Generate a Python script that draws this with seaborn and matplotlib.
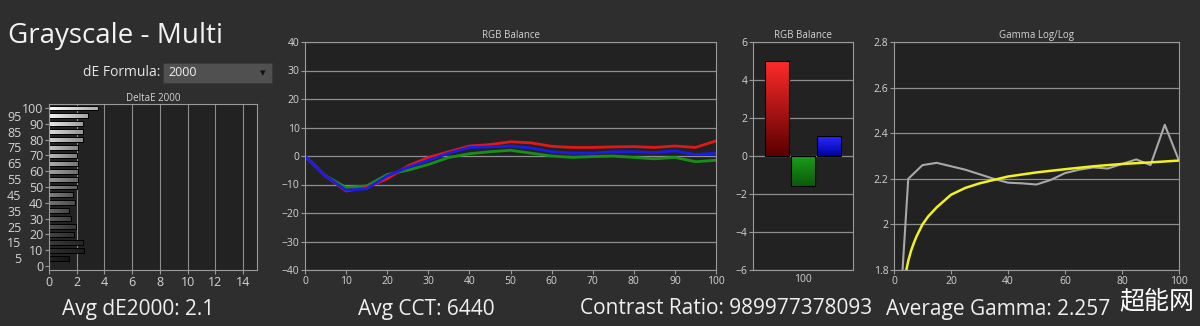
import numpy as np
import pandas as pd
import matplotlib
matplotlib.use("Agg")
import matplotlib.pyplot as plt
import seaborn as sns
from matplotlib.patches import Rectangle
from matplotlib.colors import to_rgb

# ---------------- data ----------------
levels = [0, 5, 10, 15, 20, 25, 30, 35, 40, 45, 50, 55, 60, 65, 70, 75, 80, 85, 90, 95, 100]
de2000 = [0.0, 1.42, 2.5, 2.42, 1.77, 1.94, 1.62, 1.47, 1.84, 1.74, 2.03, 2.1, 2.06, 2.1, 1.99, 2.06, 2.42, 2.45, 2.47, 2.78, 3.56]

rgb_red = [0, -7, -12.3, -11, -8, -3.5, -0.5, 1.5, 3.5, 4, 5, 4.6, 3.4, 3, 3, 3.2, 3.3, 3, 3.5, 3, 5.3]
rgb_green = [0, -7, -11, -10.5, -6.5, -5, -3, -0.5, 0.8, 1.5, 2, 1, 0, -0.5, -0.2, 0, -0.5, -1, -0.5, -2, -1.5]
rgb_blue = [0, -7, -12, -11.5, -7, -4, -1.5, 1, 3, 3.2, 3.5, 2.8, 1.5, 1, 1, 1.5, 1.5, 1.2, 1.8, 0.5, 1]

bal_channels = ["Red", "Green", "Blue"]
bal_values = [5.0, -1.6, 1.05]
bal_category = ["100"]

gamma_x = [0, 5, 10, 15, 20, 25, 30, 35, 40, 45, 50, 55, 60, 65, 70, 75, 80, 85, 90, 95, 100]
gamma_measured = [1.2, 2.2, 2.26, 2.27, 2.255, 2.24, 2.22, 2.2, 2.183, 2.18, 2.175, 2.195, 2.225, 2.24, 2.25, 2.245, 2.265, 2.285, 2.26, 2.437, 2.28]
target_x = [3, 4, 5, 6, 7, 8, 10, 12, 15, 20, 25, 30, 35, 40, 50, 60, 70, 80, 90, 100]
target_gamma = [1.70, 1.78, 1.84, 1.885, 1.92, 1.95, 2.0, 2.035, 2.075, 2.13, 2.16, 2.18, 2.195, 2.21, 2.228, 2.242, 2.255, 2.265, 2.272, 2.28]

title_text = "Grayscale - Multi"
summary = ["Avg dE2000: 2.1", "Avg CCT: 6440", "Contrast Ratio: 989977378093", "Average Gamma: 2.257"]

# ---------------- style ----------------
FIG_BG = "#2e2e2e"
AX_BG = "#222222"
GRID = "#8e8e8e"
SPINE = "#9a9a9a"
TXT = "#d4d4d4"

sns.set_theme(style="dark")
plt.rcParams.update({
    "figure.facecolor": FIG_BG,
    "axes.facecolor": AX_BG,
    "axes.edgecolor": SPINE,
    "axes.linewidth": 0.8,
    "axes.grid": False,
    "text.color": TXT,
    "xtick.color": TXT,
    "ytick.color": TXT,
    "xtick.labelcolor": TXT,
    "ytick.labelcolor": TXT,
})
plt.rcParams["font.family"] = ["Open Sans", "DejaVu Sans"]

W, H = 1200, 326
fig = plt.figure(figsize=(12, 3.26), dpi=100)


def rect(x0, y0, x1, y1):
    return [x0 / W, 1 - y1 / H, (x1 - x0) / W, (y1 - y0) / H]


def style_axes(ax, tick_size=7):
    for s in ax.spines.values():
        s.set_color(SPINE)
        s.set_linewidth(0.8)
    ax.tick_params(axis="both", which="major", length=3, width=0.8, color=SPINE,
                   labelsize=tick_size, pad=1, bottom=True, left=True)
    ax.set_xlabel("")
    ax.set_ylabel("")


def gradient_fill(ax, patch, c_start, c_end, horizontal=False):
    x0, y0 = patch.get_x(), patch.get_y()
    w, h = patch.get_width(), patch.get_height()
    a = np.array(to_rgb(c_start))
    b = np.array(to_rgb(c_end))
    t = np.linspace(0, 1, 64)
    cols = a[None, :] * (1 - t[:, None]) + b[None, :] * t[:, None]
    if horizontal:
        img = cols[None, :, :]
        ext = [min(x0, x0 + w), max(x0, x0 + w), min(y0, y0 + h), max(y0, y0 + h)]
    else:
        img = cols[:, None, :]
        ext = [x0, x0 + w, min(y0, y0 + h), max(y0, y0 + h)]
    im = ax.imshow(img, extent=ext, aspect="auto", origin="upper",
                   interpolation="bilinear", zorder=patch.get_zorder())
    im.set_clip_path(patch)
    patch.set_facecolor("none")
    patch.set_zorder(patch.get_zorder() + 0.1)


# ---------------- DeltaE 2000 ----------------
ax1 = fig.add_axes(rect(49, 104, 257, 270))
order = levels[::-1]
df_de = pd.DataFrame({"level": levels, "dE": de2000})
gray_pal = {lv: (0.08 + 0.85 * lv / 100,) * 3 for lv in levels}
sns.barplot(data=df_de, x="dE", y="level", order=order, hue="level", palette=gray_pal,
            legend=False, orient="h", width=0.62, edgecolor="black", linewidth=0.7, ax=ax1)
for p in ax1.patches:
    fc = p.get_facecolor()[:3]
    gradient_fill(ax1, p, tuple(min(1, c * 1.08) for c in fc), tuple(c * 0.72 for c in fc), horizontal=True)
ax1.set_xlim(0, 15)
ax1.set_ylim(20.5, -0.5)
ax1.set_xticks(np.arange(0, 15, 2))
major_idx = [i for i, lv in enumerate(order) if lv % 10 == 0]
minor_idx = [i for i, lv in enumerate(order) if lv % 10 != 0]
ax1.set_yticks(major_idx)
ax1.set_yticklabels([str(order[i]) for i in major_idx])
ax1.set_yticks(minor_idx, minor=True)
ax1.set_yticklabels([str(order[i]) for i in minor_idx], minor=True)
style_axes(ax1, tick_size=9)
ax1.tick_params(axis="y", which="minor", length=0, labelsize=9, pad=20, colors=TXT)
ax1.tick_params(axis="y", which="major", pad=1)
ax1.grid(axis="x", color=GRID, linewidth=0.8)
ax1.set_axisbelow(True)
ax1.set_title("DeltaE 2000", fontsize=7, color=TXT, pad=2)

# ---------------- RGB Balance lines ----------------
ax2 = fig.add_axes(rect(305, 42, 716, 270))
df_rgb = pd.DataFrame({
    "level": levels * 3,
    "value": rgb_green + rgb_red + rgb_blue,
    "ch": ["Green"] * len(levels) + ["Red"] * len(levels) + ["Blue"] * len(levels),
})
sns.lineplot(data=df_rgb, x="level", y="value", hue="ch", hue_order=["Green", "Red", "Blue"],
             palette={"Red": "#e01818", "Green": "#17901a", "Blue": "#1c1ce6"},
             linewidth=2.0, legend=False, ax=ax2)
ax2.set_xlim(0, 100)
ax2.set_ylim(-40, 40)
ax2.set_xticks(np.arange(0, 101, 10))
ax2.set_yticks(np.arange(-40, 41, 10))
style_axes(ax2, tick_size=7.5)
ax2.grid(axis="y", color=GRID, linewidth=0.9)
ax2.set_axisbelow(True)
ax2.set_title("RGB Balance", fontsize=7, color=TXT, pad=3)

# ---------------- RGB Balance bars ----------------
ax3 = fig.add_axes(rect(753, 42, 853, 270))
df_bal = pd.DataFrame({"cat": bal_category * 3, "ch": bal_channels, "val": bal_values})
sns.barplot(data=df_bal, x="cat", y="val", hue="ch", hue_order=bal_channels,
            palette={"Red": "#e01010", "Green": "#108a10", "Blue": "#1010e0"},
            width=0.78, gap=0.04, edgecolor="black", linewidth=0.8, legend=False, ax=ax3)
grads = {"Red": ("#ff2a2a", "#5a0000"), "Green": ("#1aa01a", "#0b5a0b"), "Blue": ("#2a2aff", "#0000a0")}
for p, ch in zip(ax3.patches, bal_channels):
    gradient_fill(ax3, p, *grads[ch])
ax3.set_xlim(-0.5, 0.5)
ax3.set_ylim(-6, 6)
ax3.set_yticks(np.arange(-6, 7, 2))
style_axes(ax3, tick_size=7.5)
ax3.tick_params(axis="x", which="major", length=0, pad=3)
ax3.set_xticks([-0.5, 0.5], minor=True)
ax3.tick_params(axis="x", which="minor", length=3, color=SPINE, width=0.8)
ax3.grid(axis="y", color=GRID, linewidth=0.9)
ax3.set_axisbelow(True)
ax3.set_title("RGB Balance", fontsize=7, color=TXT, pad=3)

# ---------------- Gamma ----------------
ax4 = fig.add_axes(rect(894, 42, 1179, 270))
sns.lineplot(x=gamma_x, y=gamma_measured, color="#a8a8a8", linewidth=1.5, ax=ax4)
sns.lineplot(x=target_x, y=target_gamma, color="#f2f21e", linewidth=1.8, ax=ax4)
ax4.set_xlim(0, 100)
ax4.set_ylim(1.8, 2.8)
ax4.set_xticks(np.arange(0, 101, 20))
ax4.set_yticks([1.8, 2.0, 2.2, 2.4, 2.6, 2.8])
ax4.set_yticklabels(["1.8", "2", "2.2", "2.4", "2.6", "2.8"])
style_axes(ax4, tick_size=7.5)
ax4.grid(axis="y", color=GRID, linewidth=0.9)
ax4.set_axisbelow(True)
ax4.set_title("Gamma Log/Log", fontsize=7, color=TXT, pad=3)

# ---------------- header / UI ----------------
fig.text(8 / W, 1 - 36 / H, title_text, fontsize=20, color="#f2f2f2", va="center", ha="left")
fig.text(160 / W, 1 - 73 / H, "dE Formula:", fontsize=10, color="#e6e6e6", va="center", ha="right")
dd = Rectangle((163 / W, 1 - 83 / H), 109 / W, 20 / H, transform=fig.transFigure,
               facecolor="#505050", edgecolor="#3a3a3a", linewidth=0.6)
fig.add_artist(dd)
fig.text(168 / W, 1 - 73 / H, "2000", fontsize=9, color="#f0f0f0", va="center", ha="left")
fig.text(263 / W, 1 - 73 / H, "▾", fontsize=8, color="#101010", va="center", ha="center",
         family=["DejaVu Sans"])

# ---------------- summary ----------------
xs = [62, 358, 580, 886]
for x, s in zip(xs, summary):
    fig.text(x / W, 1 - 309 / H, s, fontsize=15, color="#f0f0f0", va="center", ha="left")

fig.text(1157 / W, 1 - 301 / H, "超能网", fontsize=18, color="#ffffff", va="center", ha="center",
         family=["Noto Sans CJK SC", "DejaVu Sans"])

fig.savefig("out.png", dpi=100, facecolor=FIG_BG)
